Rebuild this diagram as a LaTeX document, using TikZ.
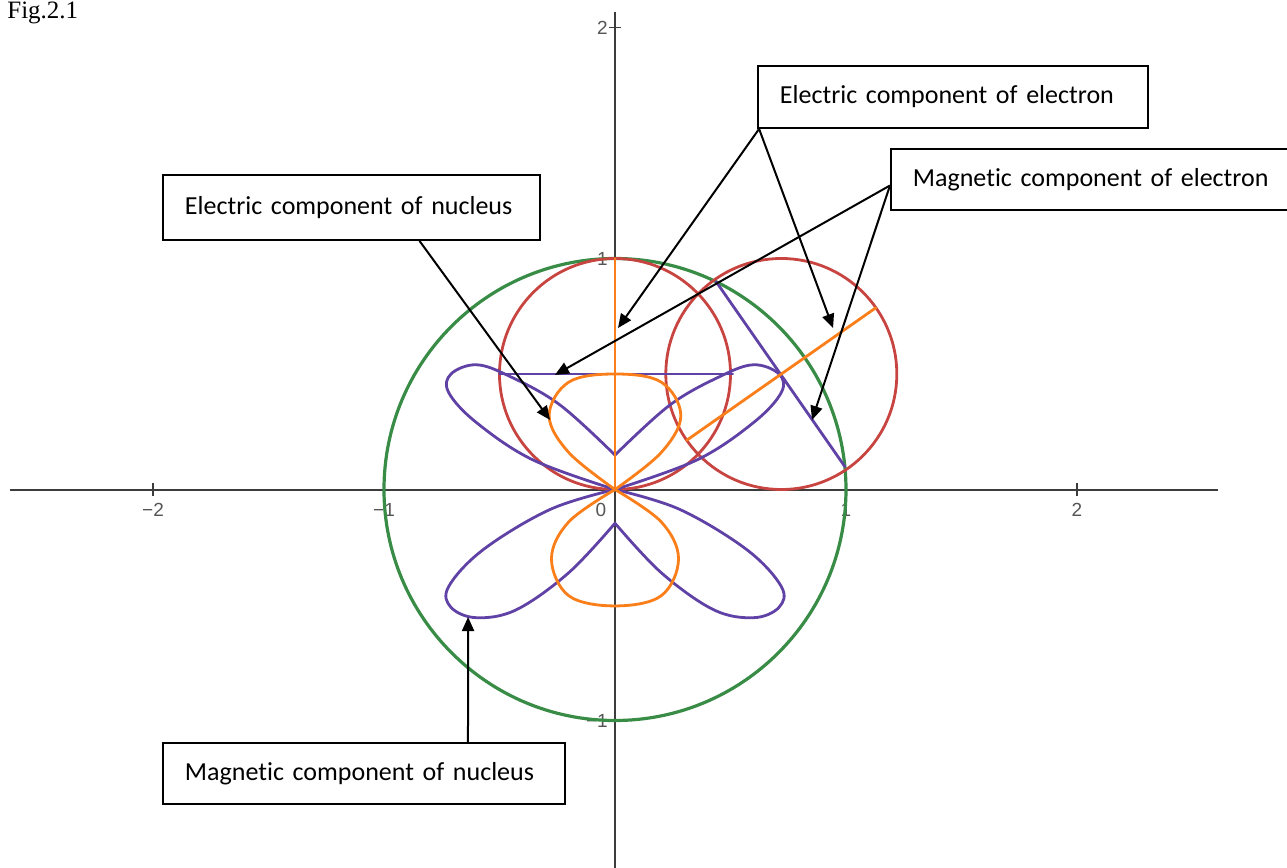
\documentclass[tikz,border=0pt]{standalone}
\usepackage{fontspec}
\setmainfont{Liberation Serif}
\newfontfamily\boxfont[Ligatures=NoCommon]{Carlito}
\newfontfamily\axisfont{Liberation Sans}
\usepackage{xcolor}
\usepackage{tikz}
\usetikzlibrary{arrows.meta}

\definecolor{axisgray}{HTML}{3C3C3C}
\definecolor{lblgray}{HTML}{555555}
\definecolor{curvegreen}{HTML}{388C46}
\definecolor{curvered}{HTML}{C74440}
\definecolor{curveorange}{HTML}{FA7E19}
\definecolor{curvepurple}{HTML}{6042A6}

\begin{document}
\begin{tikzpicture}[
  x=115.5pt, y=115.5pt,
  axis/.style={line width=1pt, draw=axisgray},
  tickmark/.style={line width=0.8pt, draw=axisgray},
  ticklbl/.style={font=\axisfont\fontsize{9.5}{11}\selectfont, text=lblgray, inner sep=0pt},
  curve/.style={line width=1.4pt, line join=round, line cap=round},
  callout/.style={rectangle, draw, line width=0.9pt, align=left,
                  font=\boxfont\fontsize{13}{15}\selectfont,
                  inner xsep=11pt, inner ysep=0pt},
  arr/.style={-{Triangle[length=7pt, width=6pt]}, line width=1pt}
]
\useasboundingbox (-2.6623,-1.6342) rectangle (2.9091,2.1190);

% title
\node[anchor=base west, inner sep=0pt, font=\fontsize{12.5}{15}\selectfont] (fig) at (-2.632,2.040) {Fig.2.1};

% tick labels
\foreach \t/\s in {-2/\char"2212 2, -1/\char"2212 1, 1/1, 2/2}
  \node[ticklbl] (xl\t) at (\t,-0.088) {\s};
\foreach \t/\s in {-1/\char"2212 1, 1/1, 2/2}
  \node[ticklbl, anchor=east] (yl\t) at (-0.03,\t) {\s};
\node[ticklbl] (zero) at (-0.061,-0.088) {0};

% axes
\draw[axis] (-2.619,0) -- (2.610,0);
\draw[axis] (0,-1.65) -- (0,2.067);
\foreach \t in {-2,-1,1,2}
  \draw[tickmark] (\t,-0.026) -- (\t,0.026);
\foreach \t in {-1,1,2}
  \draw[tickmark] (-0.026,\t) -- (0.026,\t);

% circles
\draw[curve, curvegreen, line width=1.6pt] (0,0) circle[radius=1];
\draw[curve, curvered] (0,0.5) circle[radius=0.5];
\draw[curve, curvered] (0.72,0.5) circle[radius=0.5];

% purple petals
\foreach \sx in {1,-1} {
  \draw[curve, curvepurple, xscale=\sx] plot[smooth, tension=0.6] coordinates {(0,0.149) (0.238,0.366) (0.456,0.49) (0.6,0.54) (0.71,0.5) (0.72,0.42) (0.6,0.29) (0.355,0.128) (0,0)};
  \draw[curve, curvepurple, xscale=\sx] plot[smooth, tension=0.6] coordinates {(0,-0.146) (0.2,-0.36) (0.426,-0.52) (0.6,-0.555) (0.71,-0.51) (0.72,-0.42) (0.57,-0.26) (0.28,-0.086) (0,0)};
}
\draw[curve, curvepurple] (-0.5,0.5) -- (0.51,0.5);
\draw[curve, curvepurple] (64:1) -- (5.7:1);

% orange parts
\draw[curve, curveorange] (0,0) -- (0,1);
\draw[curve, curveorange] (0.72,0.5) ++(215:0.5) -- ++(35:1);
\draw[curve, curveorange] plot[smooth, tension=0.6] coordinates {(0,0) (-0.2,0.16) (-0.285,0.32) (-0.2,0.465) (0,0.5) (0.2,0.465) (0.285,0.32) (0.2,0.16) (0,0)};
\draw[curve, curveorange] plot[smooth, tension=0.6] coordinates {(0,0) (-0.2,-0.14) (-0.275,-0.3) (-0.2,-0.46) (0,-0.504) (0.2,-0.46) (0.275,-0.3) (0.2,-0.14) (0,0)};

% callout boxes
\node[callout, text width=173pt, minimum height=31pt] (ee) at (1.4632,1.6991) {Electric component of electron};
\node[callout, text width=200pt, minimum height=30.5pt, anchor=west] (me) at (1.1905,1.3420) {Magnetic component of electron};
\node[callout, text width=166.5pt, minimum height=32.5pt] (en) at (-1.1407,1.2208) {Electric component of nucleus};
\node[callout, text width=179pt, minimum height=30.5pt] (mn) at (-1.0866,-1.2294) {Magnetic component of nucleus};

% arrow targets
\coordinate (eeA) at (0.013,0.699);
\coordinate (eeB) at (0.944,0.699);
\coordinate (meA) at (-0.26,0.496);
\coordinate (meB) at (0.853,0.301);
\coordinate (enA) at (-0.281,0.301);
\coordinate (mnA) at (-0.636,-0.552);

% arrows
\draw[arr] ([xshift=1pt]ee.south west) -- (eeA);
\draw[arr] ([xshift=1pt]ee.south west) -- (eeB);
\draw[arr] ([yshift=-3pt]me.west) -- (meA);
\draw[arr] ([yshift=-3pt]me.west) -- (meB);
\draw[arr] ([xshift=34pt]en.south) -- (enA);
\draw[arr] ([xshift=52pt]mn.north) -- (mnA);
\end{tikzpicture}
\end{document}
